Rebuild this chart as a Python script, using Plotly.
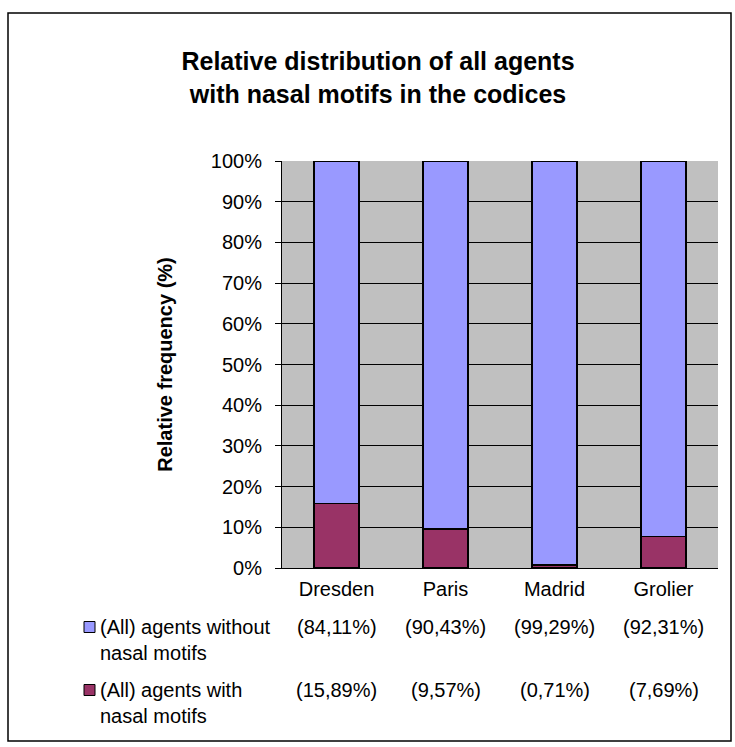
import plotly.graph_objects as go

codices = ["Dresden", "Paris", "Madrid", "Grolier"]
without_nasal = [84.11, 90.43, 99.29, 92.31]
with_nasal = [15.89, 9.57, 0.71, 7.69]
series_names = ["(All) agents without<br>nasal motifs", "(All) agents with<br>nasal motifs"]
y_ticks = [0, 10, 20, 30, 40, 50, 60, 70, 80, 90, 100]

W, H = 735, 747
L, R, T, B = 282, 17, 161, 179
pw, ph = W - L - R, H - T - B

def px(x):
    return (x - L) / pw

def py(y):
    return (H - B - y) / ph

FONT = "Liberation Sans, Arial, sans-serif"
C_TOP = "#9999FF"
C_BOT = "#993366"
FS = 20

fig = go.Figure()
fig.add_trace(go.Bar(x=codices, y=with_nasal, marker=dict(color=C_BOT, line=dict(color="black", width=1.5)),
                     name="with", showlegend=False))
fig.add_trace(go.Bar(x=codices, y=without_nasal, marker=dict(color=C_TOP, line=dict(color="black", width=1.5)),
                     name="without", showlegend=False))

annotations = []
shapes = []
# chart border
shapes.append(dict(type="rect", xref="paper", yref="paper", x0=px(8), x1=px(731), y0=py(741), y1=py(13),
                   line=dict(color="black", width=1.5), fillcolor="rgba(0,0,0,0)", layer="below"))

# data table below the chart
rows = [(without_nasal, series_names[0], C_TOP, 627), (with_nasal, series_names[1], C_BOT, 690)]
for vals, name, col, yrow in rows:
    shapes.append(dict(type="rect", xref="paper", yref="paper", x0=px(84), x1=px(95),
                       y0=py(yrow + 5.5), y1=py(yrow - 5.5),
                       line=dict(color="black", width=1), fillcolor=col))
    annotations.append(dict(text=name, xref="paper", yref="paper", x=px(98), y=py(yrow - 13), xanchor="left",
                            yanchor="top", showarrow=False, align="left",
                            font=dict(family=FONT, size=FS, color="black")))
    for c, v in zip(codices, vals):
        annotations.append(dict(text="(" + f"{v:.2f}".replace(".", ",") + "%)", xref="x", yref="paper", x=c,
                                y=py(yrow), xanchor="center", yanchor="middle", showarrow=False,
                                font=dict(family=FONT, size=FS, color="black")))

fig.update_layout(
    width=W, height=H, barmode="stack", bargap=0.587,
    margin=dict(l=L, r=R, t=T, b=B, autoexpand=False),
    paper_bgcolor="white", plot_bgcolor="#C0C0C0",
    font=dict(family=FONT, size=FS, color="black"),
    title=dict(text="<b>Relative distribution of all agents<br>with nasal motifs in the codices</b>",
               xref="container", x=378 / W, xanchor="center", yref="container", y=1 - 70 / H,
               yanchor="middle", font=dict(family=FONT, size=25, color="black")),
    xaxis=dict(showline=True, linecolor="black", linewidth=1, ticks="", tickfont=dict(size=FS),
               showgrid=False, ticklabelstandoff=3),
    yaxis=dict(range=[0, 100], tickvals=y_ticks, ticktext=[f"{t}%" for t in y_ticks],
               showgrid=True, gridcolor="black", gridwidth=1, showline=True, linecolor="black", linewidth=1,
               ticks="outside", ticklen=6, tickcolor="black", zeroline=False, ticklabelstandoff=9,
               tickfont=dict(size=FS),
               title=dict(text="<b>Relative frequency (%)</b>", font=dict(family=FONT, size=20), standoff=32)),
    annotations=annotations, shapes=shapes,
)

fig.write_html("out.html", config={"displayModeBar": False},
               post_script="document.body.style.margin='0';document.body.style.overflow='hidden';")
